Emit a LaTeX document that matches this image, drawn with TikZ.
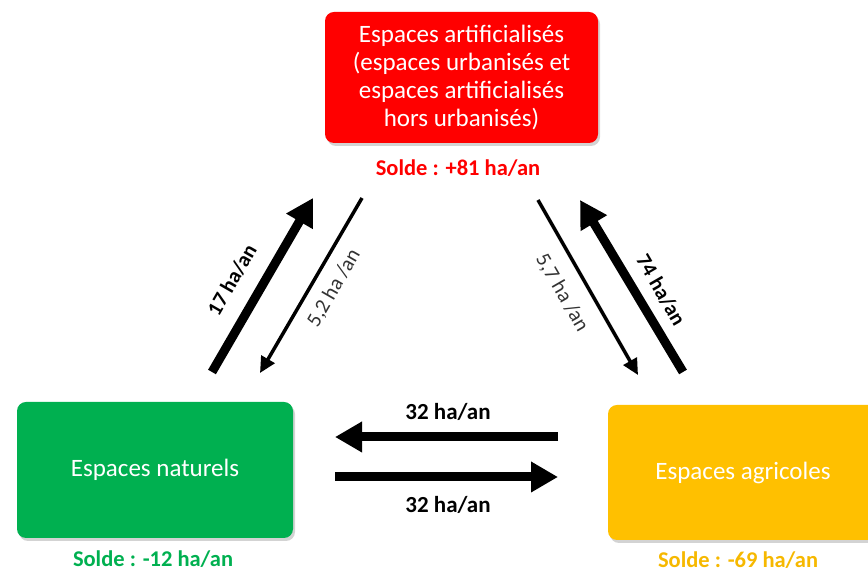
\documentclass[tikz,border=0pt]{standalone}
\usepackage{fontspec}
\setmainfont{Carlito}
\usetikzlibrary{arrows.meta,shadows,positioning}
\definecolor{artif}{RGB}{255,0,0}
\definecolor{natur}{RGB}{0,176,80}
\definecolor{agri}{RGB}{255,192,0}
\definecolor{agritxt}{RGB}{246,184,0}
\begin{document}
\begin{tikzpicture}[x=1pt,y=1pt,
  zone/.style={rounded corners=9pt,text=white,align=center,inner sep=0pt,
    font=\fontsize{25}{28}\selectfont,
    drop shadow={shadow xshift=2pt,shadow yshift=-3pt,opacity=0.35}},
  solde/.style={inner sep=0pt,font=\fontsize{22.5}{24}\selectfont\bfseries},
  fluxlabel/.style={font=\fontsize{21}{23}\selectfont},
  boldlabel/.style={font=\fontsize{21}{23}\selectfont\bfseries},
  thickflow/.style={line width=9pt,-{Triangle[width=29pt,length=27pt]}},
  thinflow/.style={line width=3.5pt,-{Triangle[width=15pt,length=16pt]}}]
\useasboundingbox (0,0) rectangle (868,572);
\node[zone,fill=artif,minimum width=273pt,minimum height=131pt] (artif) at (461.5,494.5)
  {Espaces artificialisés\\(espaces urbanisés et\\espaces artificialisés\\hors urbanisés)};
\node[zone,fill=natur,minimum width=276pt,minimum height=136pt] (natur) at (155,102) {Espaces naturels};
\node[zone,fill=agri,minimum width=270pt,minimum height=135pt] (agri) at (743,99.5) {Espaces agricoles};
\node[solde,text=artif] (solde-artif) at (458,404) {Solde : +81 ha/an};
\node[solde,text=natur] (solde-natur) at (153,12.5) {Solde : -12 ha/an};
\node[solde,text=agritxt] (solde-agri) at (738,12) {Solde : -69 ha/an};
\coordinate (n-a-start) at (212,200);
\coordinate (n-a-end) at (313,374);
\coordinate (a-n-start) at (362,374);
\coordinate (a-n-end) at (260,199);
\coordinate (a-g-start) at (538,372);
\coordinate (a-g-end) at (638,197);
\coordinate (g-a-start) at (683,200);
\coordinate (g-a-end) at (580,372);
\coordinate (g-n-start) at (558,135);
\coordinate (g-n-end) at (335,135);
\coordinate (n-g-start) at (335,95);
\coordinate (n-g-end) at (558,95);
\draw[thickflow] (n-a-start) -- (n-a-end);
\draw[thinflow] (a-n-start) -- (a-n-end);
\draw[thinflow] (a-g-start) -- (a-g-end);
\draw[thickflow] (g-a-start) -- (g-a-end);
\draw[thickflow] (g-n-start) -- (g-n-end);
\draw[thickflow] (n-g-start) -- (n-g-end);
\node[boldlabel,rotate=60] (lbl-n-a) at (232,292) {17 ha/an};
\node[fluxlabel,text=black!80,rotate=60] (lbl-a-n) at (334,284) {5,2 ha /an};
\node[fluxlabel,text=black!80,rotate=-60] (lbl-a-g) at (562,279) {5,7 ha /an};
\node[boldlabel,rotate=-60] (lbl-g-a) at (661,282) {74 ha/an};
\node[boldlabel,font=\fontsize{23}{25}\selectfont\bfseries] (lbl-g-n) at (448,160) {32 ha/an};
\node[boldlabel,font=\fontsize{23}{25}\selectfont\bfseries] (lbl-n-g) at (448,67) {32 ha/an};
\end{tikzpicture}
\end{document}
